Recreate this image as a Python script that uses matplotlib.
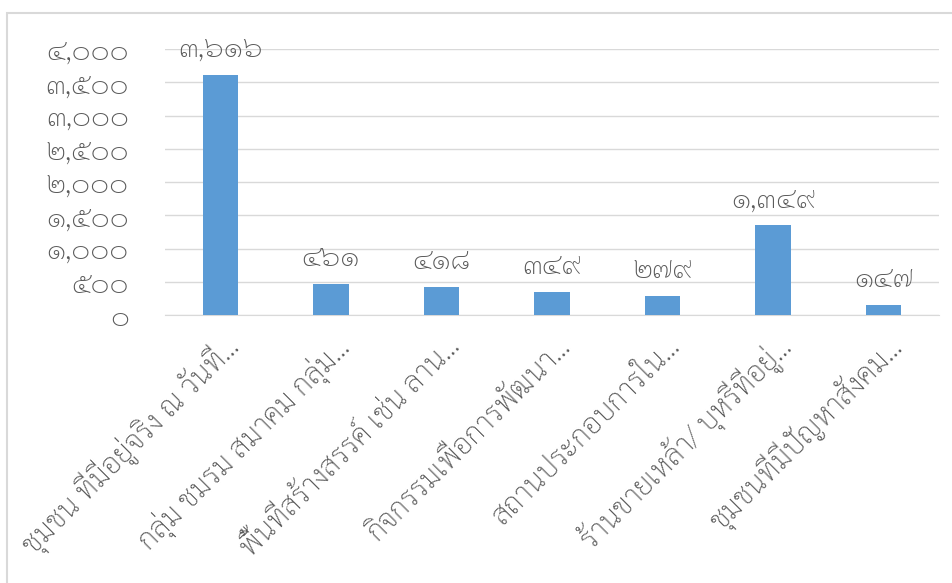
import matplotlib
matplotlib.use("Agg")
import matplotlib.pyplot as plt
from matplotlib.patches import Rectangle
from matplotlib.transforms import ScaledTranslation

plt.rcParams['font.family'] = ['Sarabun', 'DejaVu Sans']
plt.rcParams['font.weight'] = 'light'

categories = [
    "ชุมชน ที่มีอยู่จริง ณ วันที่...",
    "กลุ่ม ชมรม สมาคม กลุ่ม...",
    "พื้นที่สร้างสรรค์ เช่น ลาน...",
    "กิจกรรมเพื่อการพัฒนา...",
    "สถานประกอบการใน...",
    "ร้านขายเหล้า/ บุหรี่ที่อยู่...",
    "ชุมชนที่มีปัญหาสังคม...",
]
values = [3616, 461, 418, 349, 279, 1349, 147]
yticks = [0, 500, 1000, 1500, 2000, 2500, 3000, 3500, 4000]

THAI = str.maketrans("0123456789", "๐๑๒๓๔๕๖๗๘๙")
def thai_num(v):
    return f"{v:,}".translate(THAI)

W, H = 952, 583
fig = plt.figure(figsize=(W/100, H/100), dpi=100)
fig.patches.append(Rectangle((7/W, -0.1), 1.2, (H-13)/H + 0.1, transform=fig.transFigure,
                             fill=False, edgecolor='#D9D9D9', linewidth=1.5, zorder=0))

ax = fig.add_axes([165/W, 1 - 315/H, (939-165)/W, (315-49)/H])
x = list(range(len(categories)))
ax.bar(x, values, width=0.32, color='#5B9BD5', zorder=3)
ax.set_xlim(-0.5, len(categories) - 0.5)
ax.set_ylim(0, 4000)
ax.set_yticks(yticks)
ax.set_yticklabels([thai_num(v) for v in yticks])
ax.yaxis.grid(True, color='#D9D9D9', linewidth=1.0, zorder=0)
ax.set_axisbelow(True)
for s in ['top', 'right', 'left']:
    ax.spines[s].set_visible(False)
ax.spines['bottom'].set_color('#D9D9D9')
ax.tick_params(axis='y', length=0, pad=26, labelsize=21, labelcolor='#595959')
ax.tick_params(axis='x', length=0, pad=4, labelsize=21, labelcolor='#595959')
ax.set_xticks(x)
ax.set_xticklabels(categories, rotation=45, ha='right', va='center', rotation_mode='anchor')
off = ScaledTranslation(14/100, -22/100, fig.dpi_scale_trans)
for lab in ax.get_xticklabels():
    lab.set_transform(lab.get_transform() + off)
for xi, v in zip(x, values):
    ax.annotate(thai_num(v), (xi, v), xytext=(0, 8), textcoords='offset points',
                ha='center', va='bottom', fontsize=21, color='#595959')
fig.savefig("out.png", dpi=100)
